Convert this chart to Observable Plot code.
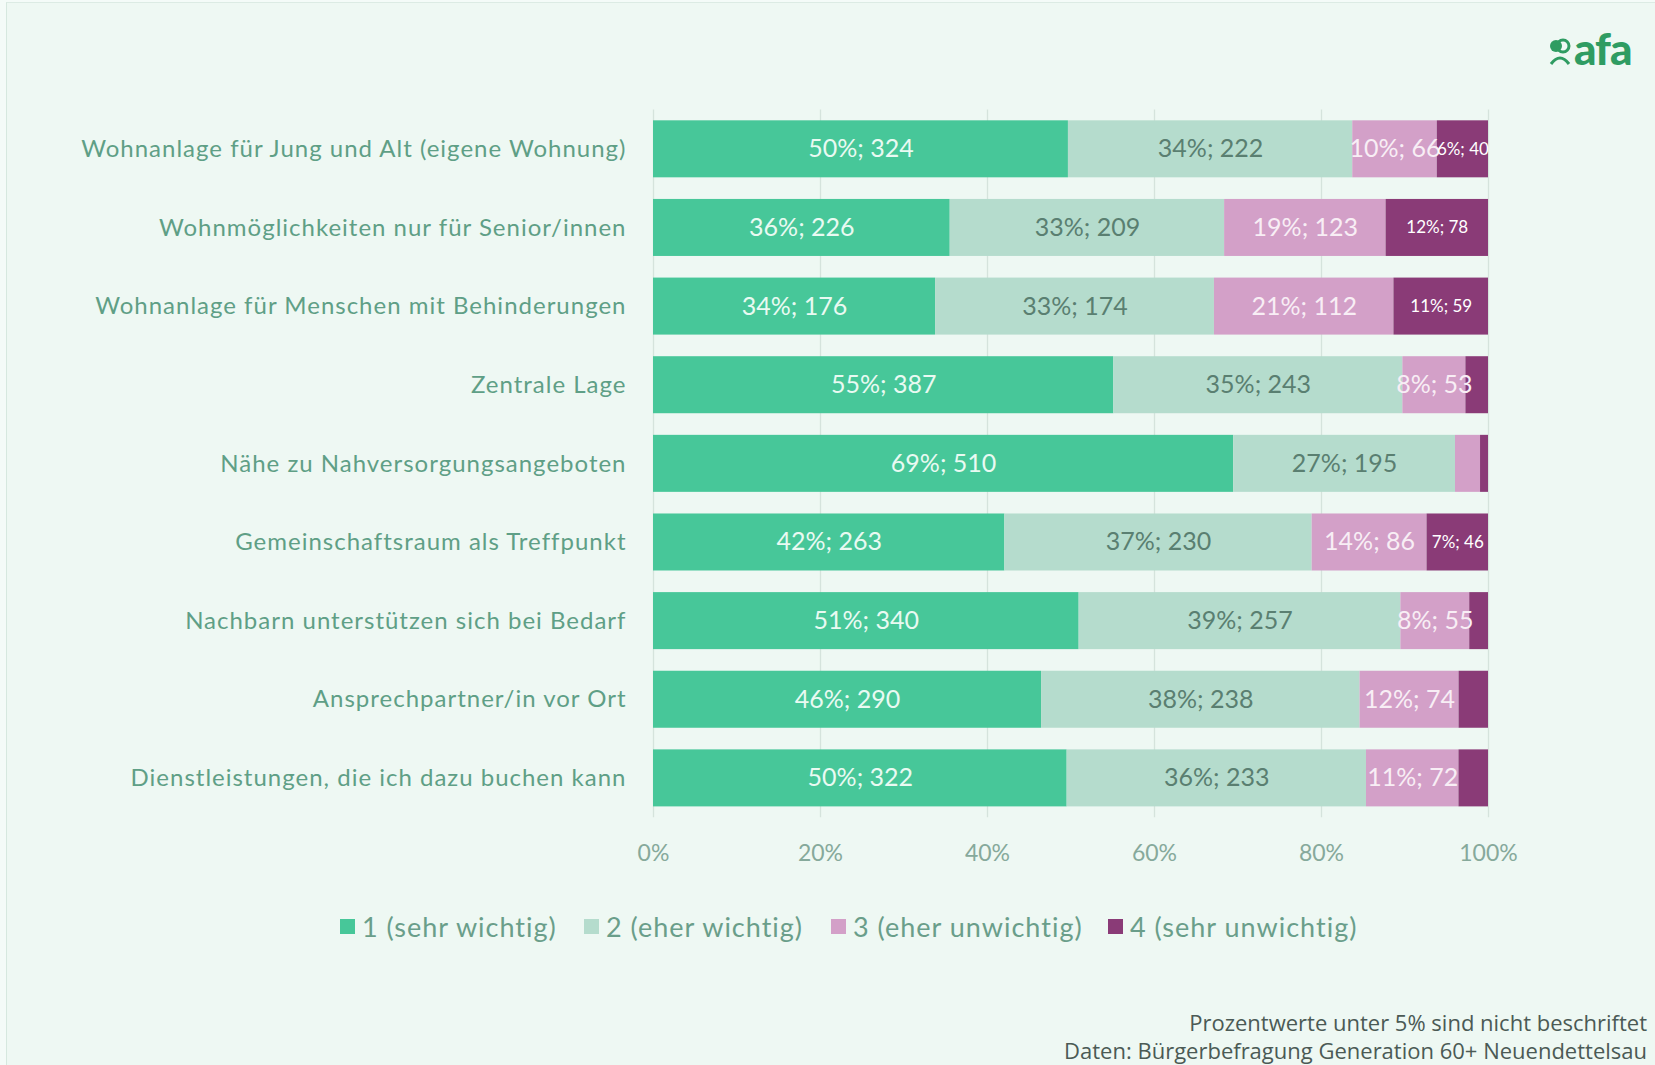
<!DOCTYPE html>
<html>
<head>
<meta charset="utf-8">
<script src="https://cdn.jsdelivr.net/npm/d3@7"></script>
<script src="https://cdn.jsdelivr.net/npm/@observablehq/plot@0.6"></script>
<style>
  html, body { margin: 0; padding: 0; background: #f4fbf8; }
  #wrap { position: relative; width: 1655px; height: 1065px; overflow: hidden; background: #f4fbf8; font-family: Lato, "Open Sans", sans-serif; }
  #frame { position: absolute; left: 6px; top: 2px; right: 0; bottom: 0; background: #eef8f3; border-left: 1px solid #d6e8df; border-top: 1px solid #dcebe4; }
  #chart { position: absolute; left: 0; top: 0; }
  #chart g[aria-label="y-axis tick label"] text { letter-spacing: 1px; }
  #legend { position: absolute; left: 0; width: 1655px; top: 910px; }
  #legend .item { display: flex; align-items: center; color: #6a9e8a; font-size: 27px; position: absolute; white-space: nowrap; letter-spacing: 1px; }
  #legend .sw { width: 15px; height: 15px; margin-right: 7px; }
  #footer { position: absolute; right: 8px; top: 1008px; text-align: right; color: #4b5a55; font-size: 22px; line-height: 28px; font-family: "Open Sans", Lato, sans-serif; }
  #logo { position: absolute; left: 1548px; top: 22px; color: #2f9c62; font-weight: 900; font-size: 44px; font-family: Lato, sans-serif; display: flex; align-items: center; letter-spacing: -1px; }
</style>
</head>
<body>
<div id="wrap">
  <div id="frame"></div>
  <div id="chart"></div>
  <div id="legend"></div>
  <div id="logo"><svg width="24" height="32" viewBox="0 0 24 32" style="margin-right:2px;margin-top:8px"><circle cx="8" cy="10" r="6" fill="#2f9c62"/><circle cx="15" cy="10" r="6" fill="none" stroke="#2f9c62" stroke-width="3"/><path d="M3 28 q9 -12 18 0" fill="none" stroke="#2f9c62" stroke-width="3"/></svg><span>afa</span></div>
  <div id="footer">Prozentwerte unter 5% sind nicht beschriftet<br>Daten: Bürgerbefragung Generation 60+ Neuendettelsau</div>
</div>
<script>
const categories = [
  "Wohnanlage für Jung und Alt (eigene Wohnung)",
  "Wohnmöglichkeiten nur für Senior/innen",
  "Wohnanlage für Menschen mit Behinderungen",
  "Zentrale Lage",
  "Nähe zu Nahversorgungsangeboten",
  "Gemeinschaftsraum als Treffpunkt",
  "Nachbarn unterstützen sich bei Bedarf",
  "Ansprechpartner/in vor Ort",
  "Dienstleistungen, die ich dazu buchen kann"
];
const seriesNames = ["1 (sehr wichtig)", "2 (eher wichtig)", "3 (eher unwichtig)", "4 (sehr unwichtig)"];
const sehrWichtig    = [324, 226, 176, 387, 510, 263, 340, 290, 322];
const eherWichtig    = [222, 209, 174, 243, 195, 230, 257, 238, 233];
const eherUnwichtig  = [66, 123, 112, 53, 22, 86, 55, 74, 72];
const sehrUnwichtig  = [40, 78, 59, 19, 7, 46, 15, 22, 23];
const seriesColors = ["#47c799", "#b5dccd", "#d3a0c8", "#8a3b77"];
const labelColors  = ["#e9faf2", "#5a7f71", "#f8eef5", "#ffffff"];
const labelSizes   = [25, 25, 25, 17];
const xTicks = [0, 0.2, 0.4, 0.6, 0.8, 1];
const xTickLabels = ["0%", "20%", "40%", "60%", "80%", "100%"];

const seriesValues = [sehrWichtig, eherWichtig, eherUnwichtig, sehrUnwichtig];
const rows = [];
categories.forEach((c, i) => {
  const total = d3.sum(seriesValues, s => s[i]);
  seriesValues.forEach((s, k) => {
    const pct = Math.round(s[i] / total * 100);
    rows.push({cat: c, series: seriesNames[k], k, value: s[i], pct});
  });
});

const stackOpts = {x: "value", y: "cat", offset: "normalize", order: seriesNames};

const textMarks = seriesNames.map((name, k) =>
  Plot.textX(rows, Plot.stackX({
    ...stackOpts,
    z: "series",
    text: d => (d.k === k && d.pct >= 5) ? `${d.pct}%; ${d.value}` : "",
    fill: labelColors[k],
    fontSize: labelSizes[k],
    fontFamily: "Lato, sans-serif"
  }))
);

const chart = Plot.plot({
  width: 1655,
  height: 880,
  marginLeft: 653,
  marginRight: 167,
  marginTop: 109.5,
  marginBottom: 62.8,
  style: {background: "transparent", fontFamily: "Lato, sans-serif"},
  x: {domain: [0, 1], ticks: xTicks},
  y: {domain: categories, padding: 0.275, paddingOuter: 0.1375, round: false},
  color: {domain: seriesNames, range: seriesColors},
  marks: [
    Plot.ruleX(xTicks, {stroke: "#d5e3dc", strokeWidth: 1.3}),
    Plot.barX(rows, Plot.stackX({...stackOpts, fill: "series"})),
    ...textMarks,
    Plot.axisY({tickSize: 0, tickPadding: 27, fontSize: 24, fill: "#5f9f86", label: null}),
    Plot.axisX({ticks: xTicks, tickFormat: (d, i) => xTickLabels[i], tickSize: 0, tickPadding: 27, fontSize: 23, fill: "#86a99b", label: null})
  ]
});
document.getElementById("chart").appendChild(chart);

// legend
const legend = document.getElementById("legend");
const legendX = [340, 584, 831, 1108];
seriesNames.forEach((name, k) => {
  const item = document.createElement("div");
  item.className = "item";
  item.style.left = legendX[k] + "px";
  item.innerHTML = `<span class="sw" style="background:${seriesColors[k]}"></span><span>${name}</span>`;
  legend.appendChild(item);
});
</script>
</body>
</html>
